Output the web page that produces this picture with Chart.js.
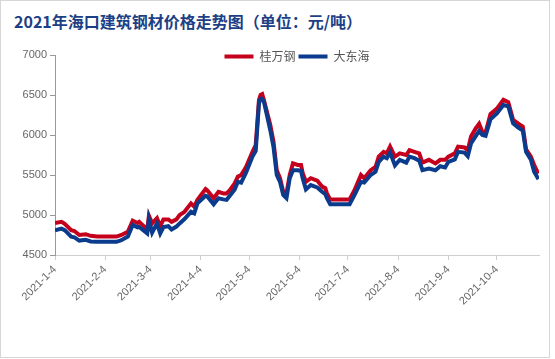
<!DOCTYPE html>
<html>
<head>
<meta charset="utf-8">
<script src="https://cdn.jsdelivr.net/npm/chart.js@4.4.1/dist/chart.umd.min.js"></script>
<style>
  body { margin: 0; background: #fff; }
  #wrap { position: relative; width: 555px; height: 359px; }
  #frame { position: absolute; left: 0; top: 0; width: 550px; height: 358px; box-sizing: border-box; border: 1px solid #d6d6d6; }
  #title { position: absolute; left: 14px; top: 12px; font: bold 16px/18px "Noto Sans CJK SC", sans-serif; color: #1d3f85; white-space: nowrap; }
  canvas { position: absolute; left: 0; top: 0; }
</style>
</head>
<body>
<div id="wrap">
  <div id="frame"></div>
  <div id="title">2021年海口建筑钢材价格走势图（单位：元/吨）</div>
  <canvas id="priceChart" width="555" height="359"></canvas>
</div>
<script>
const dates = [
    '2021-1-4', '2021-1-8', '2021-1-10', '2021-1-14', '2021-1-16', '2021-1-19', '2021-1-23', '2021-1-26', '2021-1-30',
    '2021-2-11', '2021-2-14', '2021-2-18', '2021-2-21', '2021-2-24', '2021-2-25',
    '2021-3-2', '2021-3-3', '2021-3-5', '2021-3-8', '2021-3-10', '2021-3-12', '2021-3-15', '2021-3-17', '2021-3-20',
    '2021-3-22', '2021-3-25', '2021-3-29', '2021-3-31',
    '2021-4-2', '2021-4-7', '2021-4-8', '2021-4-12', '2021-4-15', '2021-4-18', '2021-4-20', '2021-4-22', '2021-4-25',
    '2021-4-27', '2021-4-29',
    '2021-5-2', '2021-5-6', '2021-5-8', '2021-5-10', '2021-5-11', '2021-5-12', '2021-5-13', '2021-5-17', '2021-5-19',
    '2021-5-21', '2021-5-23', '2021-5-25', '2021-5-27', '2021-5-29', '2021-5-31',
    '2021-6-3', '2021-6-5', '2021-6-6', '2021-6-8', '2021-6-11', '2021-6-15', '2021-6-18', '2021-6-20', '2021-6-21',
    '2021-6-23',
    '2021-7-5', '2021-7-8', '2021-7-12', '2021-7-14', '2021-7-18', '2021-7-21', '2021-7-23', '2021-7-26', '2021-7-28',
    '2021-7-30',
    '2021-8-2', '2021-8-5', '2021-8-9', '2021-8-11', '2021-8-14', '2021-8-17', '2021-8-19', '2021-8-23', '2021-8-27',
    '2021-8-30',
    '2021-9-2', '2021-9-4', '2021-9-8', '2021-9-10', '2021-9-14', '2021-9-16', '2021-9-18', '2021-9-21', '2021-9-23',
    '2021-9-25', '2021-9-27', '2021-9-30',
    '2021-10-4', '2021-10-8', '2021-10-11', '2021-10-14', '2021-10-17', '2021-10-20', '2021-10-22', '2021-10-25',
    '2021-10-27', '2021-10-29', '2021-10-30'
];

// 桂万钢
const guiWanGang = [
    4900, 4915, 4890, 4810, 4800, 4750, 4760, 4740, 4730,
    4730, 4750, 4790, 4930, 4900, 4915,
    4820, 4990, 4895, 4960, 4860, 4945, 4945, 4915, 4945,
    5000, 5040, 5145, 5105,
    5190, 5325, 5310, 5210, 5290, 5270, 5270, 5310, 5395,
    5480, 5500,
    5600, 5790, 5875, 6440, 6500, 6510, 6440, 6125, 5915,
    5560, 5460, 5290, 5270, 5500, 5645,
    5625, 5625, 5525, 5415, 5460, 5430, 5355, 5335, 5270,
    5195,
    5195, 5310, 5500, 5460, 5560, 5600, 5730, 5790, 5770,
    5855,
    5730, 5770, 5750, 5810, 5790, 5770, 5655, 5690, 5645,
    5690,
    5690, 5730, 5770, 5855, 5845, 5810, 5980, 6085, 6140,
    6040, 6030, 6260,
    6330, 6440, 6410, 6190, 6145, 6105, 5820, 5730,
    5625, 5540, 5550
];

// 大东海
const daDongHai = [
    4810, 4830, 4810, 4730, 4720, 4680, 4690, 4670, 4665,
    4665, 4685, 4730, 4875, 4845, 4850,
    4770, 4940, 4780, 4895, 4770, 4850, 4860, 4820, 4855,
    4895, 4950, 5040, 5020,
    5145, 5240, 5235, 5135, 5210, 5195, 5190, 5240, 5320,
    5415, 5405,
    5530, 5730, 5800, 6395, 6455, 6450, 6420, 6060, 5850,
    5500, 5415, 5250, 5210, 5460, 5560,
    5560, 5550, 5460, 5320, 5375, 5345, 5290, 5260, 5210,
    5135,
    5135, 5250, 5415, 5405, 5500, 5540, 5665, 5730, 5710,
    5780,
    5620, 5690, 5655, 5730, 5710, 5680, 5560, 5580, 5560,
    5610,
    5595, 5665, 5695, 5790, 5780, 5735, 5895, 5990, 6050,
    6000, 5990, 6195,
    6270, 6375, 6360, 6145, 6095, 6055, 5790, 5690,
    5540, 5470, 5485
];

const tickDates = ['2021-1-4', '2021-2-4', '2021-3-4', '2021-4-4', '2021-5-4', '2021-6-4', '2021-7-4', '2021-8-4', '2021-9-4', '2021-10-4'];

function dayOffset(str) {
    const p = str.split('-');
    return (Date.UTC(+p[0], +p[1] - 1, +p[2]) - Date.UTC(2021, 0, 4)) / 86400000;
}

function toPoints(values) {
    return values.map(function (v, i) {
        return { x: dayOffset(dates[i]), y: v };
    });
}

const tickDays = tickDates.map(dayOffset);

// move the legend down so it sits level with the top tick, like the original
const legendShift = {
    id: 'legendShift',
    afterLayout(chart) {
        const lg = chart.legend;
        const h = lg.bottom - lg.top;
        lg.top = 60 - h / 2;
        lg.bottom = lg.top + h;
    }
};

let priceCanvas = document.getElementById('priceChart');
let priceChart = new Chart(priceCanvas, {
    type: 'line',
    data: {
        datasets: [{
            label: '桂万钢',
            data: toPoints(guiWanGang),
            borderColor: '#c4001c',
            backgroundColor: '#c4001c',
            borderWidth: 4,
            pointRadius: 0,
            tension: 0,
            order: 1
        }, {
            label: '大东海',
            data: toPoints(daDongHai),
            borderColor: '#0b3b8c',
            backgroundColor: '#0b3b8c',
            borderWidth: 4,
            pointRadius: 0,
            tension: 0,
            order: 0
        }]
    },
    options: {
        responsive: false,
        animation: false,
        layout: {
            padding: { top: 30, left: 0, right: 16, bottom: 4 }
        },
        plugins: {
            tooltip: { enabled: false },
            legend: {
                position: 'top',
                fullSize: false,
                labels: {
                    usePointStyle: true,
                    pointStyle: 'line',
                    pointStyleWidth: 29,
                    padding: 3,
                    color: '#555',
                    font: { size: 12, family: '"Noto Sans CJK SC", sans-serif' },
                    sort: function (a, b) { return a.datasetIndex - b.datasetIndex; }
                }
            }
        },
        scales: {
            x: {
                type: 'linear',
                min: 0,
                max: dayOffset(dates[dates.length - 1]),
                afterFit: function (scale) { scale.height = 100; },
                afterBuildTicks: function (scale) {
                    scale.ticks = tickDays.map(function (d) { return { value: d }; });
                },
                grid: { drawOnChartArea: false, tickLength: 5, color: '#cfcfcf' },
                border: { color: '#cfcfcf' },
                ticks: {
                    autoSkip: false,
                    minRotation: 45,
                    maxRotation: 45,
                    padding: 3,
                    color: '#666',
                    font: { size: 11, family: '"Liberation Sans", Arial, sans-serif' },
                    callback: function (value) {
                        const i = tickDays.indexOf(value);
                        return i >= 0 ? tickDates[i] : '';
                    }
                }
            },
            y: {
                min: 4500,
                max: 7000,
                afterFit: function (scale) { scale.width = 55; },
                grid: { drawOnChartArea: false, tickLength: 5, color: '#999' },
                border: { color: '#999' },
                ticks: {
                    stepSize: 500,
                    padding: 3,
                    color: '#666',
                    font: { size: 11, family: '"Liberation Sans", Arial, sans-serif' },
                    callback: function (value) { return String(value); }
                }
            }
        }
    },
    plugins: [legendShift]
});
</script>
</body>
</html>
